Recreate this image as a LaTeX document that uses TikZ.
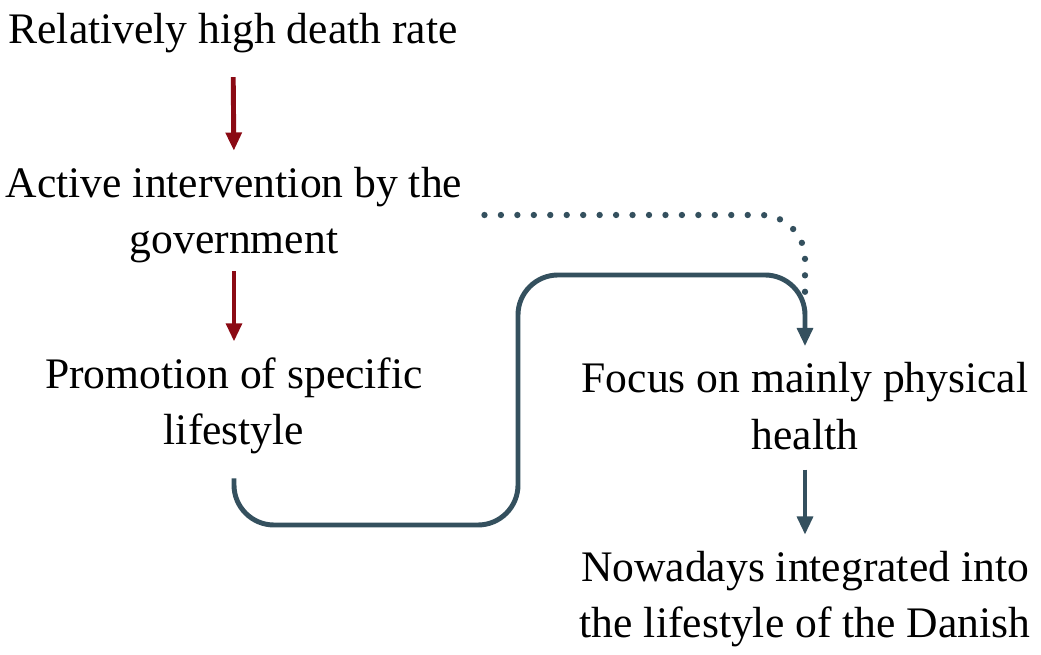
\documentclass[tikz,border=0pt]{standalone}
\usepackage{fontspec}
\setmainfont{Liberation Serif}
\usetikzlibrary{arrows.meta}
\definecolor{deathred}{HTML}{8B0A14}
\definecolor{slateblue}{HTML}{34505E}
\begin{document}
\begin{tikzpicture}[x=0.025cm,y=-0.025cm,line join=round,>={Triangle[length=13pt,width=11pt]}]
	\tikzset{every node/.style={font=\fontsize{31}{40}\selectfont,align=center,inner sep=0pt},
		redarrow/.style={->,deathred,line width=3.5pt},
		bluearrow/.style={->,slateblue,line width=3.5pt,rounded corners=1cm},
		dotline/.style={slateblue,line width=4.5pt,line cap=round,dash pattern=on 0pt off 11.7pt,rounded corners=1.1cm}}
	\useasboundingbox (0,0) rectangle (1041,655);
	\node (death) at (233,33) {Relatively high death rate};
	\node (interv) at (234,215) {Active intervention by the\\government};
	\node (promo) at (234,406) {Promotion of specific\\lifestyle};
	\node (focus) at (805,406) {Focus on mainly physical\\health};
	\node (danish) at (805,599) {Nowadays integrated into\\the lifestyle of the Danish};
	\coordinate (lowturn) at (518,525);
	\coordinate (highturn) at (518,275);
	% left column
	\draw[redarrow,shorten <=0.6cm,shorten >=0.4cm] (death.south) -- (interv.north);
	\draw[redarrow,shorten <=0.2cm,shorten >=0.4cm] (interv.south) -- (promo.north);
	% right column
	\draw[bluearrow,shorten <=0.6cm] (promo.south) |- (lowturn) -- (highturn) -| ([yshift=0.4cm]focus.north);
	\draw[dotline,shorten <=0.55cm] (interv.east) -| ([yshift=1.5cm]focus.north);
	\draw[bluearrow,shorten <=0.5cm,shorten >=0.4cm] (focus.south) -- (danish.north);
\end{tikzpicture}
\end{document}
